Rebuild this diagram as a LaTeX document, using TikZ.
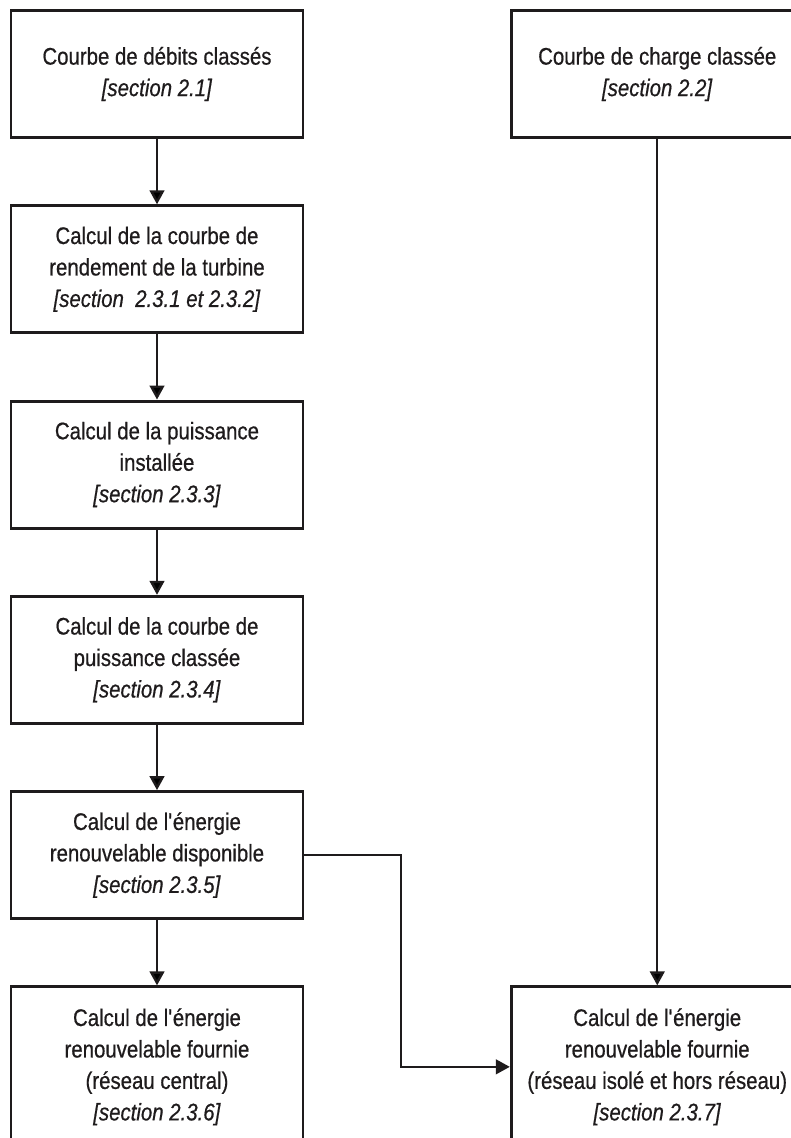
\documentclass[tikz,border=0pt]{standalone}
\usepackage{fontspec}
\setmainfont[FakeStretch=0.85,FakeBold=0.6]{Liberation Sans}
\usetikzlibrary{arrows.meta,positioning}
\definecolor{ink}{RGB}{30,27,28}

\begin{document}
\begin{tikzpicture}[>={Triangle[length=10.5pt,width=11pt]},node distance=49pt and 154pt,auto,
  every node/.style={font=\fontsize{18}{23.6}\selectfont,text=ink},
  box/.style={draw=ink,line width=2.2pt,minimum width=219pt,minimum height=95.25pt,align=center,inner sep=0pt},
  tallbox/.style={box,minimum height=120pt},
  link/.style={draw=ink,line width=1.8pt}]
\useasboundingbox (0,0) rectangle (593.25pt,-853.5pt);
% left column
  \node[box]     (debits)                        at (117.75pt,-55.5pt) {Courbe de débits classés\\ \textit{[section 2.1]}};
  \node[box]     (rendement) [below=of debits]    {Calcul de la courbe de\\ rendement de la turbine\\ \textit{[section\ \ 2.3.1 et 2.3.2]}};
  \node[box]     (installee) [below=of rendement] {Calcul de la puissance\\ installée\\ \textit{[section 2.3.3]}};
  \node[box]     (classee)   [below=of installee] {Calcul de la courbe de\\ puissance classée\\ \textit{[section 2.3.4]}};
  \node[box]     (dispo)     [below=of classee]   {Calcul de l\textquotesingle énergie\\ renouvelable disponible\\ \textit{[section 2.3.5]}};
  \node[tallbox] (central)   [below=of dispo]     {Calcul de l\textquotesingle énergie\\ renouvelable fournie\\ (réseau central)\\ \textit{[section 2.3.6]}};
% right column
  \node[box]     (charge)    [right=of debits]    {Courbe de charge classée\\ \textit{[section 2.2]}};
  \node[tallbox] (isole)     [right=of central]   {Calcul de l\textquotesingle énergie\\ renouvelable fournie\\ (réseau isolé et hors réseau)\\ \textit{[section 2.3.7]}};

  \path[->,link]
    (debits)    edge (rendement)
    (rendement) edge (installee)
    (installee) edge (classee)
    (classee)   edge (dispo)
    (dispo)     edge (central)
    (charge)    edge (isole);
  \draw[->,link] (dispo.east) -- ++(72.5pt,0) |- (isole.west);
\end{tikzpicture}
\end{document}
